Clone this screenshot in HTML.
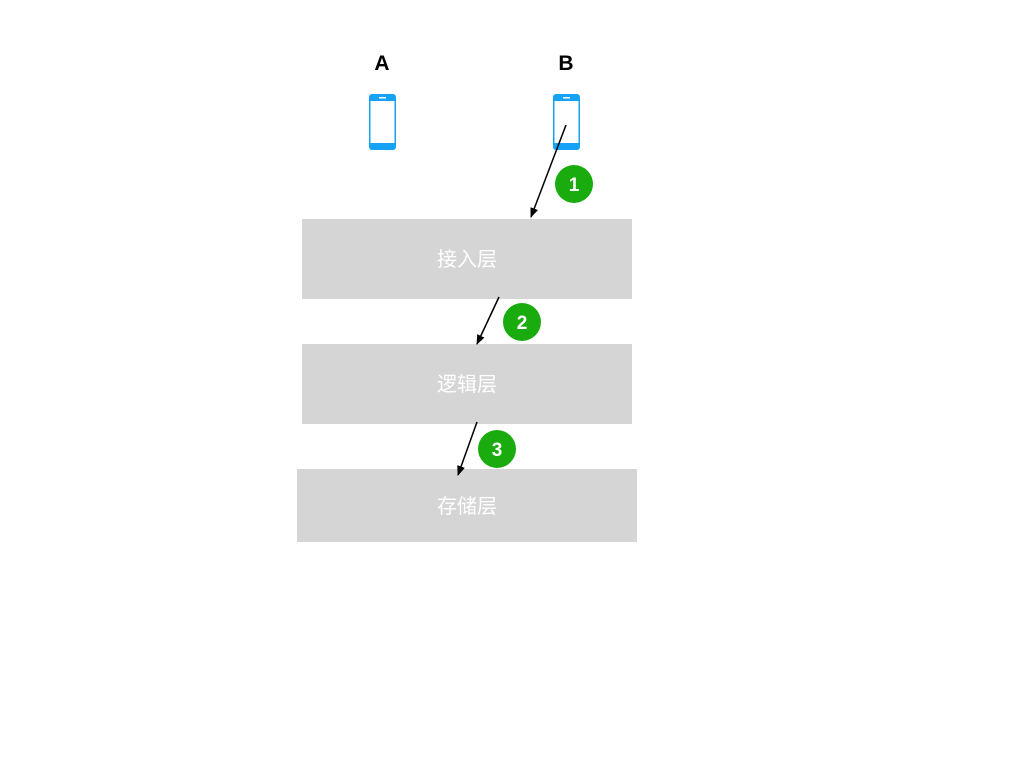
<!DOCTYPE html>
<html><head><meta charset="utf-8"><style>
body{margin:0;background:#fff;width:1024px;height:768px;overflow:hidden;font-family:"Liberation Sans","Noto Sans CJK SC",sans-serif}
</style></head><body>
<svg width="1024" height="768">
<defs><marker id="ah" markerWidth="10" markerHeight="8" refX="9" refY="4" orient="auto" markerUnits="userSpaceOnUse"><path d="M0,0 L10,4 L0,8 z" fill="#000"/></marker></defs>
<text x="382" y="70" text-anchor="middle" font-size="21" font-weight="bold">A</text>
<text x="566" y="70" text-anchor="middle" font-size="21" font-weight="bold">B</text>
<g>
<rect x="369" y="94" width="27" height="56" rx="3" fill="#16a3f5"/><rect x="370.5" y="101" width="24" height="42" fill="#fff"/><rect x="379" y="97" width="7" height="1.5" fill="#fff"/></g>
<g>
<rect x="553" y="94" width="27" height="56" rx="3" fill="#16a3f5"/><rect x="554.5" y="101" width="24" height="42" fill="#fff"/><rect x="563" y="97" width="7" height="1.5" fill="#fff"/></g>
<rect x="302" y="219" width="330" height="80" fill="#d6d5d5"/>
<text x="467" y="266" text-anchor="middle" font-size="20" fill="#fff">接入层</text>
<rect x="302" y="344" width="330" height="80" fill="#d6d5d5"/>
<text x="467" y="391" text-anchor="middle" font-size="20" fill="#fff">逻辑层</text>
<rect x="297" y="469" width="340" height="73" fill="#d6d5d5"/>
<text x="467" y="513" text-anchor="middle" font-size="20" fill="#fff">存储层</text>
<line x1="566" y1="125" x2="531" y2="217" stroke="#000" stroke-width="1.5" marker-end="url(#ah)"/>
<line x1="499" y1="297" x2="477" y2="344" stroke="#000" stroke-width="1.5" marker-end="url(#ah)"/>
<line x1="477" y1="422" x2="458" y2="475" stroke="#000" stroke-width="1.5" marker-end="url(#ah)"/>
<g><circle cx="574" cy="184" r="19" fill="#1aab0f"/><text x="574" y="191" text-anchor="middle" font-size="19" font-weight="bold" fill="#fff">1</text></g>
<g><circle cx="522" cy="322" r="19" fill="#1aab0f"/><text x="522" y="329" text-anchor="middle" font-size="19" font-weight="bold" fill="#fff">2</text></g>
<g><circle cx="497" cy="449" r="19" fill="#1aab0f"/><text x="497" y="456" text-anchor="middle" font-size="19" font-weight="bold" fill="#fff">3</text></g>
</svg>
</body></html>
